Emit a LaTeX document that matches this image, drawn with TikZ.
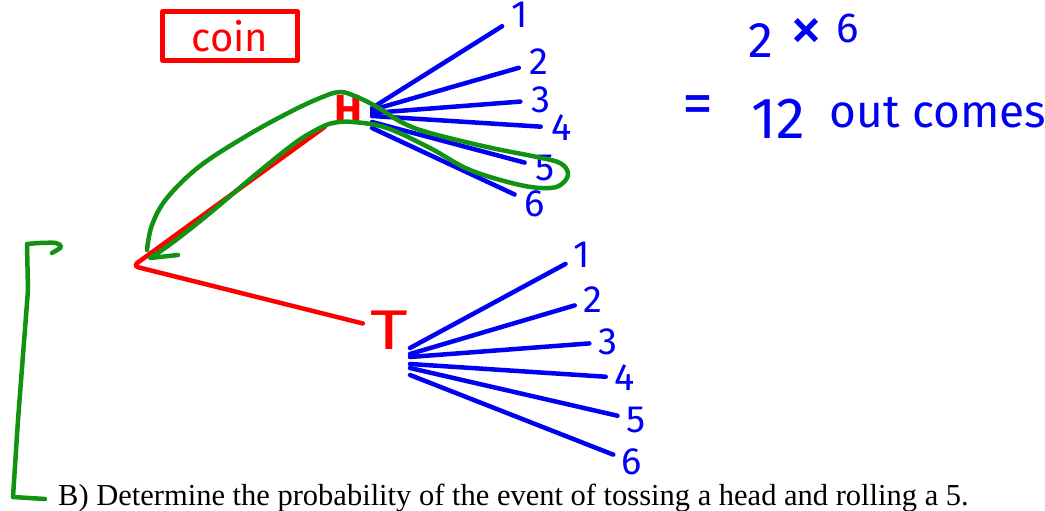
\documentclass[tikz,border=0pt]{standalone}
\usepackage{fontspec}
\setmainfont{Liberation Serif}
\newfontfamily\handfont{Fira Sans}
\definecolor{penred}{HTML}{FF0000}
\definecolor{penblue}{HTML}{0000F2}
\definecolor{pengreen}{HTML}{129212}
\usetikzlibrary{calc}

\begin{document}
\begin{tikzpicture}[x=1pt,y=-1pt,line cap=round,line join=round,
    pen/.style={line width=4.5pt},
    digit/.style={penblue,inner sep=1pt,font=\handfont\fontsize{38}{38}\selectfont}]
  \useasboundingbox (0,0) rectangle (1045,511);
  % coin label
  \node[draw=penred,pen,text=penred,minimum width=135pt,minimum height=49pt,
        font=\handfont\fontsize{40}{40}\selectfont] (coin) at (230,36) {coin};
  % first stage
  \coordinate (root) at (133,266);
  \node[penred,inner sep=1pt,font=\handfont\bfseries\fontsize{42}{42}\selectfont] (H) at (348,110) {H};
  \node[penred,inner sep=1pt,font=\handfont\fontsize{56}{56}\selectfont,xscale=1.3] (T) at (389,330) {T};
  \draw[penred,pen,rounded corners=5pt,shorten <=10pt,shorten >=6pt] (H) -- (root) -- (T);
  % die after H
  \coordinate (hfan) at (372,108);
  \foreach \n/\x/\y/\d in {1/520/15/0,2/539/62/2,3/541/100/5,4/562/128/8,5/545/168/14,6/535/204/20}{
    \node[digit] (h\n) at (\x,\y) {\n};
    \draw[penblue,pen,shorten >=10pt] ($(hfan)+(0,\d)$) -- (h\n);
  }
  % die after T
  \coordinate (tfan) at (407,348);
  \foreach \n/\x/\y/\d in {1/582/255/0,2/593/300/6,3/608/342/9,4/625/378/16,5/636/420/20,6/632/462/27}{
    \node[digit] (t\n) at (\x,\y) {\n};
    \draw[penblue,pen,shorten >=8pt] ($(tfan)+(3,\d)$) -- (t\n);
  }
  % count of outcomes
  \node[penblue,font=\handfont\fontsize{50}{50}\selectfont] (two) at (761,41) {2};
  \node[penblue,font=\handfont\fontsize{68}{68}\selectfont] (times) at (806,35) {×};
  \node[penblue,font=\handfont\fontsize{42}{42}\selectfont] (six) at (848,28) {6};
  \node[penblue,font=\handfont\fontsize{62}{62}\selectfont] (eq) at (698,110) {=};
  \node[penblue,font=\handfont\fontsize{58}{58}\selectfont] (twelve) at (778,119) {12};
  \node[penblue,font=\handfont\fontsize{46}{46}\selectfont] (outc) at (938,113) {out comes};
  % head and 5 loop
  \draw[pengreen,pen] plot[smooth,tension=0.6] coordinates {(147,250) (152,225) (167,198)
    (200,166) (248,135) (290,112) (320,98) (340,92) (357,97) (377,107) (403,123) (430,133)
    (487,147) (537,157) (560,163) (568,173) (563,183) (550,188) (520,185) (470,170)
    (430,148) (387,128) (353,122) (333,123) (318,129) (295,143) (255,175) (210,213)
    (172,243) (150,258)} -- (178,255);
  % bracket
  \draw[pengreen,pen] plot[smooth,tension=0.5] coordinates {(52,253) (61,247) (56,243)
    (40,243) (27,244)} -- (28,290) -- (18,420) -- (13,497) -- (45,499);
  % question
  \node[anchor=base west,inner sep=0pt,font=\fontsize{30.5}{32}\selectfont] (task) at (58,505)
    {B) Determine the probability of the event of tossing a head and rolling a 5.};
\end{tikzpicture}
\end{document}
